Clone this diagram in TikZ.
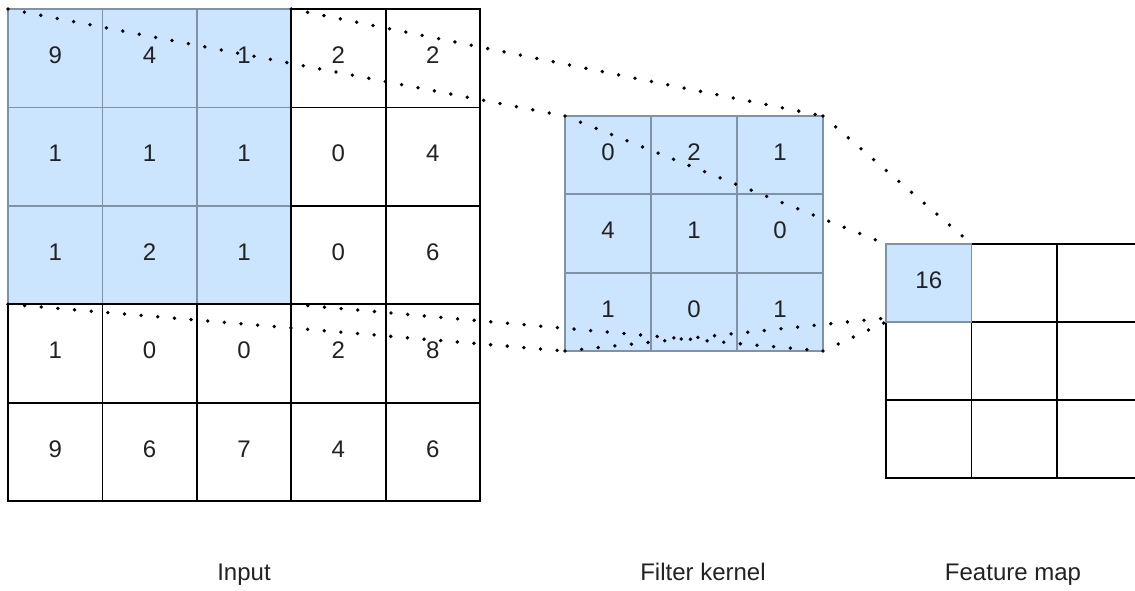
\documentclass[tikz,border=0pt]{standalone}
\usepackage{fontspec}
\setmainfont{Liberation Sans}
\definecolor{cellblue}{RGB}{204,229,255}
\definecolor{cellblueline}{RGB}{128,146,166}
\definecolor{ink}{RGB}{34,34,34}
\begin{document}
\begin{tikzpicture}[x=1pt,y=-1pt,
  cell/.style={draw=black, line width=1.8pt, fill=white, inner sep=0pt, outer sep=0pt,
    anchor=north west, text=ink, text depth=6pt, font=\fontsize{24}{28}\selectfont},
  hot/.style={fill=cellblue, draw=cellblueline},
  incell/.style={cell, minimum width=94.4pt, minimum height=98.4pt},
  kcell/.style={cell, minimum width=86pt, minimum height=78.33pt},
  fcell/.style={cell, minimum width=85.5pt, minimum height=78pt},
  guide/.style={black, line width=3.8pt, line cap=round, dash pattern=on 0pt off 16.7pt},
  caption/.style={anchor=base, text=ink, font=\fontsize{24}{28}\selectfont}
]
\useasboundingbox (0,0) rectangle (1135,590);
\clip (0,0) rectangle (1135,590);

% input matrix, 5x5; the top-left 3x3 window is highlighted
\foreach [count=\i] \v in {9,4,1,2,2, 1,1,1,0,4, 1,2,1,0,6, 1,0,0,2,8, 9,6,7,4,6} {
  \pgfmathtruncatemacro\r{div(\i-1,5)+1}
  \pgfmathtruncatemacro\c{mod(\i-1,5)+1}
  \ifnum\r<4 \ifnum\c<4 \tikzset{cur/.style={hot}}\else\tikzset{cur/.style={}}\fi
  \else\tikzset{cur/.style={}}\fi
  \node[incell,cur] (in-\r-\c) at ({8+(\c-1)*94.4},{9+(\r-1)*98.4}) {\v};
}

% filter kernel, 3x3
\foreach [count=\i] \v in {0,2,1, 4,1,0, 1,0,1} {
  \pgfmathtruncatemacro\r{div(\i-1,3)+1}
  \pgfmathtruncatemacro\c{mod(\i-1,3)+1}
  \node[kcell,hot] (fk-\r-\c) at ({565+(\c-1)*86},{116+(\r-1)*78.33}) {\v};
}

% feature map, 3x3; only the first entry is computed
\foreach [count=\i] \v in {16,,,,,,,,} {
  \pgfmathtruncatemacro\r{div(\i-1,3)+1}
  \pgfmathtruncatemacro\c{mod(\i-1,3)+1}
  \ifnum\i=1 \tikzset{cur/.style={hot}}\else\tikzset{cur/.style={}}\fi
  \node[fcell,cur] (fm-\r-\c) at ({886+(\c-1)*85.5},{244+(\r-1)*78}) {\v};
}
\node[fcell,hot] (fm-1-1) at (886,244) {16};

% projection guides
\coordinate (lowend) at (886,318);
\draw[guide] (in-1-1.north west) -- (fk-1-1.north west);
\draw[guide] (in-1-3.north east) -- (fk-1-3.north east);
\draw[guide] (in-3-1.south west) -- (fk-3-1.south west);
\draw[guide] (in-3-3.south east) -- (fk-3-3.south east);
\draw[guide] (fk-1-1.north west) -- (fm-1-1.north west);
\draw[guide] (fk-1-3.north east) -- (fm-1-1.north east);
\draw[guide] (fk-3-1.south west) -- (lowend);
\draw[guide] (fk-3-3.south east) -- (fm-1-1.south west);

% captions
\node[caption] (cap-in) at (244,580) {Input};
\node[caption] (cap-fk) at (703,580) {Filter kernel};
\node[caption] (cap-fm) at (1013,580) {Feature map};
\end{tikzpicture}
\end{document}
